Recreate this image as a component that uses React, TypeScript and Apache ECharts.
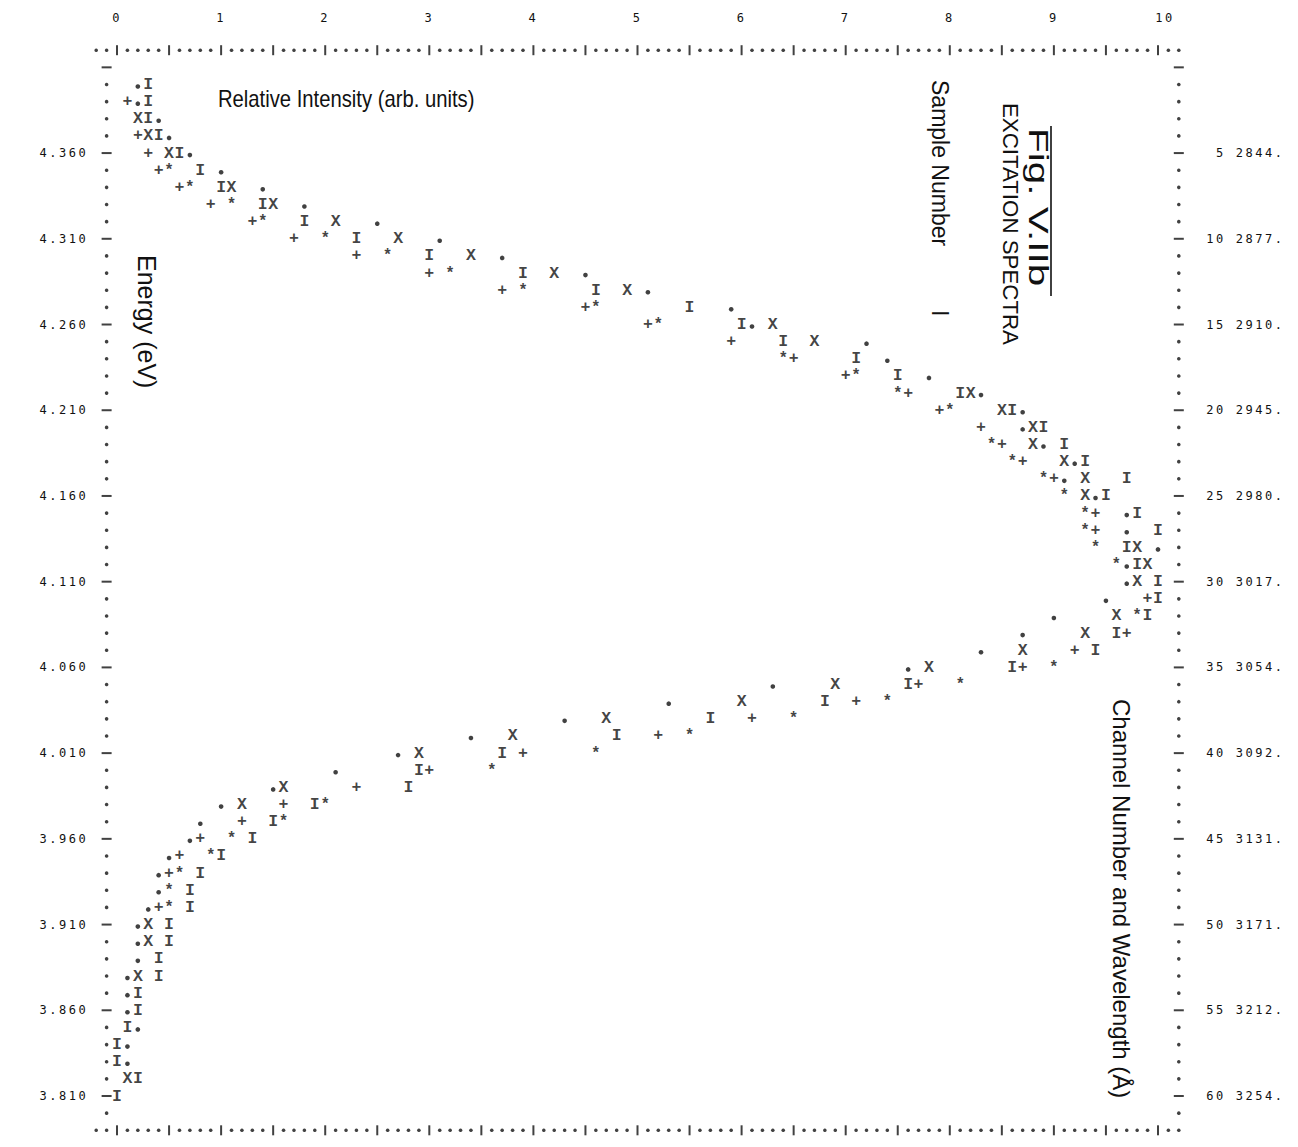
import React, { useEffect, useRef } from "react";
import * as echarts from "echarts";

// Relative intensity per channel (channels 1..60); null where the symbol is hidden by another one.
const dotVals = [
  0.2, 0.2, 0.4, 0.5, 0.7, 1.0, 1.4, 1.8, 2.5, 3.1,
  3.7, 4.5, 5.1, 5.9, 6.1, 7.2, 7.4, 7.8, 8.3, 8.7,
  8.7, 8.9, 9.2, 9.1, 9.4, 9.7, 9.7, 10.0, 9.7, 9.7,
  9.5, 9.0, 8.7, 8.3, 7.6, 6.3, 5.3, 4.3, 3.4, 2.7,
  2.1, 1.5, 1.0, 0.8, 0.7, 0.5, 0.4, 0.4, 0.3, 0.2,
  0.2, 0.2, 0.1, 0.1, 0.1, 0.2, 0.1, 0.1, null, null,
];
const plusVals = [
  null, 0.1, null, 0.2, 0.3, 0.4, 0.6, 0.9, 1.3, 1.7,
  2.3, 3.0, 3.7, 4.5, 5.1, 5.9, 6.5, 7.0, 7.6, 7.9,
  8.3, 8.5, 8.7, 9.0, null, 9.4, 9.4, null, null, null,
  9.9, null, 9.7, 9.2, 8.7, 7.7, 7.1, 6.1, 5.2, 3.9,
  3.0, 2.3, 1.6, 1.2, 0.8, 0.6, 0.5, null, 0.4, null,
  null, null, null, null, null, null, null, null, null, null,
];
const starVals = [
  null, null, null, null, null, 0.5, 0.7, 1.1, 1.4, 2.0,
  2.6, 3.2, 3.9, 4.6, 5.2, null, 6.4, 7.1, 7.5, 8.0,
  null, 8.4, 8.6, 8.9, 9.1, 9.3, 9.3, 9.4, 9.6, null,
  null, 9.8, null, null, 9.0, 8.1, 7.4, 6.5, 5.5, 4.6,
  3.6, null, 2.0, 1.6, 1.1, 0.9, 0.6, 0.5, 0.5, null,
  null, null, null, null, null, null, null, null, null, null,
];
const iVals = [
  0.3, 0.3, 0.3, 0.4, 0.6, 0.8, 1.0, 1.4, 1.8, 2.3,
  3.0, 3.9, 4.6, 5.5, 6.0, 6.4, 7.1, 7.5, 8.1, 8.6,
  8.9, 9.1, 9.3, 9.7, 9.5, 9.8, 10.0, 9.7, 9.8, 10.0,
  10.0, 9.9, 9.6, 9.4, 8.6, 7.6, 6.8, 5.7, 4.8, 3.7,
  2.9, 2.8, 1.9, 1.5, 1.3, 1.0, 0.8, 0.7, 0.7, 0.5,
  0.5, 0.4, 0.4, 0.2, 0.2, 0.1, 0.0, 0.0, 0.2, 0.0,
];
const xVals = [
  null, null, 0.2, 0.3, 0.5, null, 1.1, 1.5, 2.1, 2.7,
  3.4, 4.2, 4.9, null, 6.3, 6.7, null, null, 8.2, 8.5,
  8.8, 8.8, 9.1, 9.3, 9.3, null, null, 9.8, 9.9, 9.8,
  null, 9.6, 9.3, 8.7, 7.8, 6.9, 6.0, 4.7, 3.8, 2.9,
  null, 1.6, 1.2, null, null, null, null, null, null, 0.3,
  0.3, null, 0.2, null, null, null, null, null, 0.1, null,
];

// Axis annotations
const intensityTicks = [0, 1, 2, 3, 4, 5, 6, 7, 8, 9, 10];
const labelChannels = [5, 10, 15, 20, 25, 30, 35, 40, 45, 50, 55, 60];
const energyLabels = ["4.360", "4.310", "4.260", "4.210", "4.160", "4.110", "4.060", "4.010", "3.960", "3.910", "3.860", "3.810"];
const wavelengthLabels = ["2844.", "2877.", "2910.", "2945.", "2980.", "3017.", "3054.", "3092.", "3131.", "3171.", "3212.", "3254."];

const FIRST_ROW = -1;
const LAST_ROW = 62;
const X_MIN = -0.2;
const X_MAX = 10.2;

const MONO = "Liberation Mono";
const LABEL_MONO = "DejaVu Sans Mono";
const SANS = "Liberation Sans";
const INK = "#111";

// Printer-style spacing for the axis label characters
const LABEL_CSS = `text[style*="${LABEL_MONO}"]{letter-spacing:2.5px}`;

const toPoints = (vals: (number | null)[]) =>
  vals.map((v, i) => (v === null ? null : [v, i + 1])).filter((p) => p !== null) as number[][];

// Printer frame: dotted border with '|' marks every half unit and '-' marks every 5 rows
function buildFrame() {
  const dots: number[][] = [];
  const vbars: number[][] = [];
  const hbars: number[][] = [];
  for (let c = -2; c <= 102; c++) {
    const x = c / 10;
    for (const r of [FIRST_ROW, LAST_ROW]) {
      if (c >= 0 && c <= 100 && c % 5 === 0) vbars.push([x, r]);
      else dots.push([x, r]);
    }
  }
  for (let r = 0; r < LAST_ROW; r++) {
    for (const x of [-0.1, 10.2]) {
      if (r % 5 === 0) hbars.push([x, r]);
      else dots.push([x, r]);
    }
  }
  return { dots, vbars, hbars };
}

const glyphSeries = (name: string, vals: (number | null)[], ch: string, dy = 0, size = 16) => ({
  type: "scatter",
  name,
  data: toPoints(vals),
  symbol: "circle",
  symbolSize: 0.1,
  itemStyle: { color: "rgba(0,0,0,0)" },
  silent: true,
  label: {
    show: true,
    position: "inside",
    formatter: ch,
    fontFamily: MONO,
    fontWeight: "bold",
    fontSize: size,
    lineHeight: 12,
    color: INK,
    offset: [0, dy],
  },
  z: 3,
});

const sideAxis = (position: string, formatter: (v: number) => string, align: string, margin: number) => ({
  type: "value",
  inverse: true,
  min: FIRST_ROW,
  max: LAST_ROW,
  position,
  axisLine: { show: false },
  axisTick: { show: false },
  splitLine: { show: false },
  axisLabel: {
    customValues: labelChannels,
    formatter,
    align,
    margin,
    fontFamily: LABEL_MONO,
    fontSize: 12,
    color: INK,
  },
});

function buildOption() {
  const frame = buildFrame();
  const rot = -Math.PI / 2;
  const pick = (labels: string[]) => (v: number) => labels[labelChannels.indexOf(Math.round(v))] ?? "";
  return {
    animation: false,
    backgroundColor: "#ffffff",
    grid: { left: 96.2, top: 50.2, width: 1082.6, height: 1080.1, containLabel: false },
    xAxis: {
      type: "value",
      position: "top",
      min: X_MIN,
      max: X_MAX,
      axisLine: { show: false },
      axisTick: { show: false },
      splitLine: { show: false },
      axisLabel: {
        customValues: intensityTicks,
        formatter: (v: number) => (Math.round(v) === 10 ? "{w|10}" : String(Math.round(v))),
        margin: 26,
        fontFamily: LABEL_MONO,
        fontSize: 12,
        color: INK,
        rich: { w: { padding: [0, 0, 0, 14], fontFamily: LABEL_MONO, fontSize: 12, color: INK } },
      },
    },
    yAxis: [
      sideAxis("left", pick(energyLabels), "right", 8),
      sideAxis("right", (v: number) => String(Math.round(v)), "right", 47),
      sideAxis("right", pick(wavelengthLabels), "left", 57),
    ],
    series: [
      {
        type: "scatter",
        name: "frame dots",
        data: frame.dots,
        symbol: "circle",
        symbolSize: 3.6,
        itemStyle: { color: INK },
        silent: true,
      },
      {
        type: "scatter",
        name: "frame marks",
        data: frame.vbars,
        symbol: "rect",
        symbolSize: [2, 10],
        itemStyle: { color: INK },
        silent: true,
      },
      {
        type: "scatter",
        name: "frame rows",
        data: frame.hbars,
        symbol: "rect",
        symbolSize: [10, 2],
        itemStyle: { color: INK },
        silent: true,
      },
      {
        type: "scatter",
        name: ".",
        data: toPoints(dotVals),
        symbol: "circle",
        symbolSize: 4.6,
        symbolOffset: [0, 2],
        itemStyle: { color: INK },
        silent: true,
        z: 3,
      },
      glyphSeries("+", plusVals, "+", 0, 16.5),
      glyphSeries("*", starVals, "*", 0.5, 16),
      glyphSeries("I", iVals, "I", 0, 16.5),
      glyphSeries("X", xVals, "X", 0, 16.5),
    ],
    graphic: [
      {
        type: "text",
        x: 218,
        y: 88,
        scaleX: 0.88,
        style: { text: "Relative Intensity (arb. units)", fontFamily: SANS, fontSize: 23, fill: INK, align: "left", verticalAlign: "top" },
      },
      {
        type: "text",
        x: 147,
        y: 255,
        rotation: rot,
        style: { text: "Energy (eV)", fontFamily: SANS, fontSize: 25, fill: INK, align: "left", verticalAlign: "middle" },
      },
      {
        type: "text",
        x: 1038,
        y: 128,
        rotation: rot,
        scaleX: 1.5,
        style: { text: "Fig. V.IIb", fontFamily: SANS, fontSize: 27, fill: INK, align: "left", verticalAlign: "middle" },
      },
      {
        type: "line",
        shape: { x1: 1051, y1: 126, x2: 1051, y2: 296 },
        style: { stroke: INK, lineWidth: 1.6 },
      },
      {
        type: "text",
        x: 1010,
        y: 103,
        rotation: rot,
        style: { text: "EXCITATION SPECTRA", fontFamily: SANS, fontSize: 22.3, fill: INK, align: "left", verticalAlign: "middle" },
      },
      {
        type: "text",
        x: 940,
        y: 80,
        rotation: rot,
        style: {
          text: "Sample Number\u00a0\u00a0\u00a0\u00a0\u00a0\u00a0\u00a0\u00a0\u00a0\u00a0I",
          fontFamily: SANS,
          fontSize: 23,
          fill: INK,
          align: "left",
          verticalAlign: "middle",
        },
      },
      {
        type: "text",
        x: 1121,
        y: 699,
        rotation: rot,
        style: { text: "Channel Number and Wavelength (Å)", fontFamily: SANS, fontSize: 24, fill: INK, align: "left", verticalAlign: "middle" },
      },
    ],
  };
}

export default function App() {
  const ref = useRef<HTMLDivElement>(null);
  useEffect(() => {
    if (!ref.current) return;
    const chart = echarts.init(ref.current, undefined, { renderer: "svg" });
    chart.setOption(buildOption() as any);
    return () => chart.dispose();
  }, []);
  return (
    <>
      <style>{LABEL_CSS}</style>
      <div
        ref={ref}
        style={{ position: "fixed", left: 0, top: 0, width: 1298, height: 1147, background: "#ffffff" }}
      />
    </>
  );
}
